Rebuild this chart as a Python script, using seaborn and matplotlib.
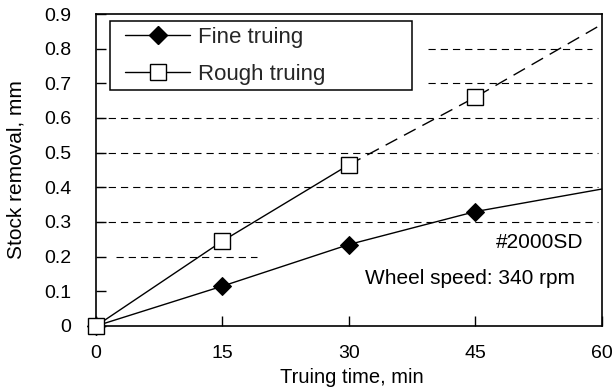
import matplotlib
matplotlib.use("Agg")
import matplotlib.pyplot as plt
from matplotlib.lines import Line2D
from matplotlib.legend_handler import HandlerLine2D
import numpy as np
import pandas as pd
import seaborn as sns

# Truing time (min) and stock removal (mm)
time_min = [0, 15, 30, 45, 60]
fine_removal = [0.0, 0.115, 0.235, 0.33, 0.395]
rough_removal = [0.0, 0.245, 0.465, 0.66, 0.87]

x_ticks = [0, 15, 30, 45, 60]
y_ticks = [0, 0.1, 0.2, 0.3, 0.4, 0.5, 0.6, 0.7, 0.8, 0.9]
y_tick_labels = ["0", "0.1", "0.2", "0.3", "0.4", "0.5", "0.6", "0.7", "0.8", "0.9"]

# Reference levels drawn as dashed guide lines (level, start, end in minutes)
guide_levels = [0.2, 0.3, 0.4, 0.5, 0.6, 0.7, 0.8]
guide_start = [2.4, 0, 0, 0, 0, 39.4, 39.4]
guide_end = [19.1, 59.5, 59.5, 59.5, 59.5, 58.9, 58.9]

sns.set_theme(style="white")
plt.rcParams["font.family"] = ["Liberation Sans", "DejaVu Sans"]

fig = plt.figure(figsize=(6.14, 3.89), dpi=100)
ax = fig.add_axes([0.1564, 0.162, 0.8236, 0.802])

fine_df = pd.DataFrame({"t": time_min, "v": fine_removal})
rough_df = pd.DataFrame({"t": time_min, "v": rough_removal})

lw = 1.0
d_ms = 9.0   # diamond marker size
s_ms = 11.5  # square marker size

# dashed guide lines
for lvl, x0, x1 in zip(guide_levels, guide_start, guide_end):
    ax.plot([x0, x1], [lvl, lvl], color="black", lw=0.8,
            linestyle=(0, (6.5, 4.5)), zorder=1)

# Fine truing: line to 60 min, markers up to 45 min
sns.lineplot(data=fine_df, x="t", y="v", ax=ax, color="black", lw=lw,
             marker="D", markersize=d_ms, markerfacecolor="black",
             markeredgecolor="black", markevery=[0, 1, 2, 3],
             clip_on=False, zorder=3, estimator=None, sort=False)

# Rough truing: measured part solid, extrapolated part dashed
rough_meas = rough_df.iloc[:3]
rough_ext = rough_df.iloc[2:]
sns.lineplot(data=rough_ext, x="t", y="v", ax=ax, color="black", lw=lw,
             linestyle=(0, (9.5, 5.5)), marker="s", markersize=s_ms,
             markerfacecolor="white", markeredgecolor="black",
             markeredgewidth=1.0, markevery=[1], zorder=4,
             estimator=None, sort=False)
sns.lineplot(data=rough_meas, x="t", y="v", ax=ax, color="black", lw=lw,
             marker="s", markersize=s_ms, markerfacecolor="white",
             markeredgecolor="black", markeredgewidth=1.0,
             clip_on=False, zorder=5, estimator=None, sort=False)

ax.set_xlim(0, 60)
ax.set_ylim(0, 0.9)
ax.set_xticks(x_ticks)
ax.set_xticklabels([str(t) for t in x_ticks])
ax.set_yticks(y_ticks)
ax.set_yticklabels(y_tick_labels)
ax.tick_params(axis="both", direction="in", length=7, width=1.0,
               colors="black", labelsize=14, bottom=True, left=True,
               top=False, right=False)
ax.tick_params(axis="x", pad=14)
ax.tick_params(axis="y", pad=18)

for sp in ax.spines.values():
    sp.set_color("black")
    sp.set_linewidth(1.2)

ax.set_xlabel("Truing time, min", fontsize=14.5, color="black")
ax.set_ylabel("Stock removal, mm", fontsize=15, color="black")
ax.xaxis.set_label_coords(0.505, -0.197)
ax.xaxis.label.set_va("bottom")
ax.yaxis.set_label_coords(-0.140, 0.5)

ax.text(0.964, 0.266, "#2000SD", transform=ax.transAxes, ha="right",
        va="center", fontsize=15, color="black")
ax.text(0.947, 0.151, "Wheel speed: 340 rpm", transform=ax.transAxes,
        ha="right", va="center", fontsize=15, color="black")

handles = [
    Line2D([], [], color="black", lw=lw, marker="D", markersize=d_ms,
           markerfacecolor="black", markeredgecolor="black"),
    Line2D([], [], color="black", lw=lw, marker="s", markersize=s_ms,
           markerfacecolor="white", markeredgecolor="black",
           markeredgewidth=1.0),
]
leg = ax.legend(handles, ["Fine truing", "Rough truing"], loc="upper left",
                bbox_to_anchor=(0.028, 0.734, 0.597, 0.244), mode="expand",
                borderaxespad=0, fontsize=16, frameon=True, fancybox=False,
                handlelength=3.35, handletextpad=0.36, labelspacing=0.72,
                borderpad=0.26,
                handler_map={Line2D: HandlerLine2D(xpad=0.42)})
leg.get_frame().set_edgecolor("black")
leg.get_frame().set_linewidth(1.1)
leg.get_frame().set_alpha(1)

fig.savefig("out.png", dpi=100)
